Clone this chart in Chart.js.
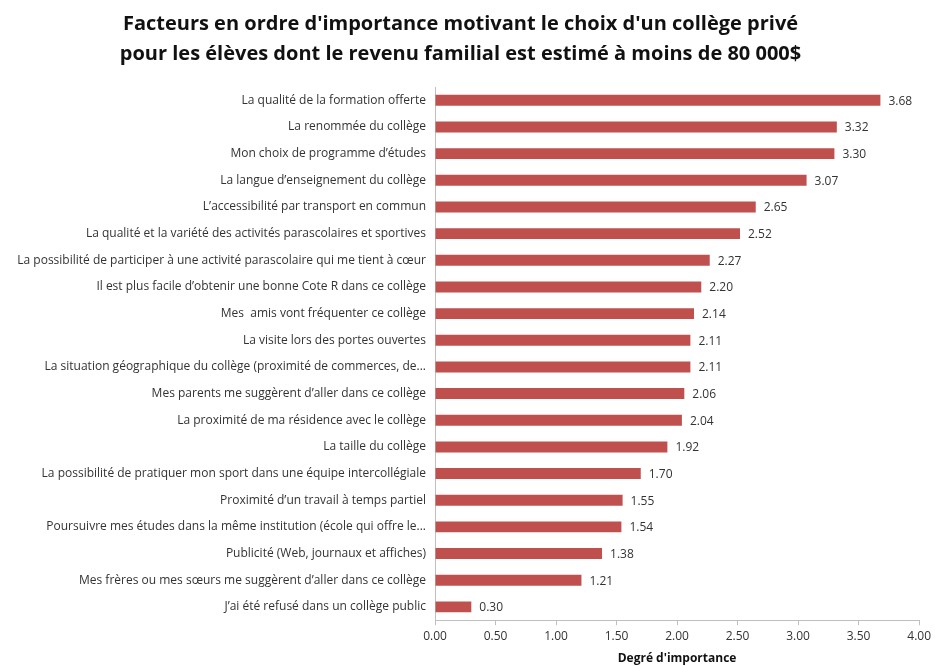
<!DOCTYPE html>
<html>
<head>
<meta charset="utf-8">
<script src="https://cdn.jsdelivr.net/npm/chart.js@4"></script>
<style>
  html, body { margin: 0; padding: 0; background: #fff; }
  #wrap { width: 935px; height: 666px; }
</style>
</head>
<body>
<div id="wrap"><canvas id="chart" width="935" height="666"></canvas></div>
<script>
const titleLines = [
    "Facteurs en ordre d'importance motivant le choix d'un collège privé",
    "pour les élèves dont le revenu familial est estimé à moins de 80 000$"
];
const facteurs = [
    "La qualité de la formation offerte",
    "La renommée du collège",
    "Mon choix de programme d’études",
    "La langue d’enseignement du collège",
    "L’accessibilité par transport en commun",
    "La qualité et la variété des activités parascolaires et sportives",
    "La possibilité de participer à une activité parascolaire qui me tient à cœur",
    "Il est plus facile d’obtenir une bonne Cote R dans ce collège",
    "Mes  amis vont fréquenter ce collège",
    "La visite lors des portes ouvertes",
    "La situation géographique du collège (proximité de commerces, de...",
    "Mes parents me suggèrent d’aller dans ce collège",
    "La proximité de ma résidence avec le collège",
    "La taille du collège",
    "La possibilité de pratiquer mon sport dans une équipe intercollégiale",
    "Proximité d’un travail à temps partiel",
    "Poursuivre mes études dans la même institution (école qui offre le...",
    "Publicité (Web, journaux et affiches)",
    "Mes frères ou mes sœurs me suggèrent d’aller dans ce collège",
    "J’ai été refusé dans un collège public"
];
const degres = [3.68, 3.32, 3.30, 3.07, 2.65, 2.52, 2.27, 2.20, 2.14, 2.11,
                2.11, 2.06, 2.04, 1.92, 1.70, 1.55, 1.54, 1.38, 1.21, 0.30];

const fontFam = "'Open Sans', sans-serif";

// étiquettes de valeur au bout des barres
const etiquettes = {
    id: 'etiquettes',
    afterDatasetsDraw(chart) {
        const ctx = chart.ctx;
        const meta = chart.getDatasetMeta(0);
        ctx.save();
        ctx.font = "12px " + fontFam;
        ctx.fillStyle = '#333';
        ctx.textAlign = 'left';
        ctx.textBaseline = 'middle';
        meta.data.forEach((bar, i) => {
            ctx.fillText(degres[i].toFixed(2), bar.x + 8, bar.y + 1);
        });
        ctx.restore();
    }
};

new Chart(document.getElementById('chart'), {
    type: 'bar',
    data: {
        labels: facteurs,
        datasets: [{
            data: degres,
            backgroundColor: '#c0504d',
            borderWidth: 0,
            barPercentage: 0.82,
            categoryPercentage: 0.5
        }]
    },
    options: {
        indexAxis: 'y',
        responsive: false,
        animation: false,
        layout: { padding: { left: 0, right: 14, top: 9, bottom: 0 } },
        plugins: {
            legend: { display: false },
            tooltip: { enabled: false },
            title: {
                display: true,
                text: titleLines,
                color: '#111',
                font: { family: fontFam, size: 20, weight: 'bold', lineHeight: 1.5 },
                padding: { top: 0, bottom: 18 }
            }
        },
        scales: {
            x: {
                min: 0,
                max: 4,
                ticks: {
                    stepSize: 0.5,
                    color: '#333',
                    font: { family: fontFam, size: 12 },
                    padding: 4,
                    callback: v => v.toFixed(2)
                },
                grid: { drawOnChartArea: false, drawTicks: true, tickLength: 5, color: '#bfbfbf' },
                border: { color: '#bfbfbf' },
                title: {
                    display: true,
                    text: "Degré d'importance",
                    color: '#111',
                    font: { family: fontFam, size: 12, weight: 'bold' },
                    padding: { top: 4, bottom: 0 }
                }
            },
            y: {
                afterFit: axis => { axis.width = 435; },
                ticks: {
                    color: '#333',
                    font: { family: fontFam, size: 12 },
                    padding: 9,
                    autoSkip: false
                },
                grid: { drawOnChartArea: false, drawTicks: false },
                border: { color: '#bfbfbf' }
            }
        }
    },
    plugins: [etiquettes]
});
</script>
</body>
</html>
